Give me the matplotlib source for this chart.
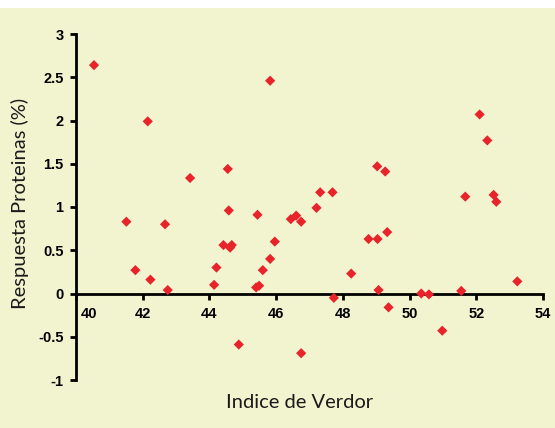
import matplotlib
matplotlib.use("Agg")
import matplotlib.pyplot as plt
import matplotlib.transforms as mtransforms
from matplotlib.patches import Rectangle

# Data
indice_verdor = [40.54, 42.15, 43.42, 44.55, 45.82, 52.10, 52.33, 49.03, 49.27, 47.32,
                 47.69, 47.21, 51.67, 52.52, 52.60, 41.51, 42.67, 41.78, 42.23, 42.75,
                 44.58, 45.44, 44.42, 44.62, 44.67, 45.96, 45.82, 45.60, 44.21, 44.14,
                 45.40, 45.49, 44.88, 46.44, 46.60, 46.75, 48.77, 49.04, 49.33, 48.25,
                 49.07, 47.73, 49.37, 50.35, 50.58, 51.55, 50.98, 53.23, 46.75]
respuesta = [2.64, 1.99, 1.335, 1.44, 2.46, 2.07, 1.77, 1.47, 1.41, 1.17,
             1.17, 0.99, 1.12, 1.14, 1.06, 0.83, 0.80, 0.27, 0.16, 0.04,
             0.96, 0.91, 0.56, 0.53, 0.56, 0.60, 0.40, 0.27, 0.30, 0.10,
             0.07, 0.09, -0.59, 0.86, 0.90, 0.83, 0.63, 0.63, 0.71, 0.23,
             0.04, -0.05, -0.16, 0.00, -0.01, 0.03, -0.43, 0.14, -0.69]

x_ticks = [40, 42, 44, 46, 48, 50, 52, 54]
x_tick_labels = ["40", "42", "44", "46", "48", "50", "52", "54"]
y_ticks = [-1, -0.5, 0, 0.5, 1, 1.5, 2, 2.5, 3]
y_tick_labels = ["-1", "-0.5", "0", "0.5", "1", "1.5", "2", "2.5", "3"]

W, H = 555, 428
bg = "#F2F4D0"
fig = plt.figure(figsize=(W / 100, H / 100), dpi=100, facecolor="white")
fig.patches.append(Rectangle((0, 0), 1, (H - 8) / H, transform=fig.transFigure,
                             facecolor=bg, edgecolor="none", zorder=-10))

left, right = 76 / W, 543 / W
bottom, top = 1 - 380 / H, 1 - 34 / H
ax = fig.add_axes([left, bottom, right - left, top - bottom])
ax.set_facecolor("none")

ax.scatter(indice_verdor, respuesta, marker="D", s=5.2 ** 2, color="#E8232A",
           edgecolors="none", zorder=3, clip_on=False)

ax.set_xlim(40, 54)
ax.set_ylim(-1, 3)
ax.spines["top"].set_visible(False)
ax.spines["right"].set_visible(False)
ax.spines["bottom"].set_position(("data", 0))
for s in ("left", "bottom"):
    ax.spines[s].set_linewidth(2.0)
    ax.spines[s].set_color("black")

tick_font = dict(family="Liberation Sans", weight="bold", size=10.5)
ax.set_xticks(x_ticks)
ax.set_xticklabels(x_tick_labels, fontdict=tick_font)
ax.set_yticks(y_ticks)
ax.set_yticklabels(y_tick_labels, fontdict=tick_font)
ax.tick_params(axis="x", direction="out", length=4.5, width=2, pad=5)
ax.tick_params(axis="y", direction="out", length=4.5, width=2, pad=4.5)

# shift first x label off the y axis
first = ax.get_xticklabels()[0]
first.set_transform(first.get_transform() +
                    mtransforms.ScaledTranslation(13 / 100, 0, fig.dpi_scale_trans))

label_font = dict(family="Lato", weight="normal", size=14.5, color="#1a1a1a")
ax.set_xlabel("Indice de Verdor", fontdict=label_font)
ax.set_ylabel("Respuesta Proteinas (%)", fontdict=label_font)
ax.xaxis.label.set_va("center")
ax.yaxis.label.set_va("center")
ax.xaxis.set_label_coords((300 - 76) / 467, (380 - 403) / 346)
ax.yaxis.set_label_coords((20 - 76) / 467, (380 - 203) / 346)

fig.savefig("out.png", dpi=100, facecolor="white")
